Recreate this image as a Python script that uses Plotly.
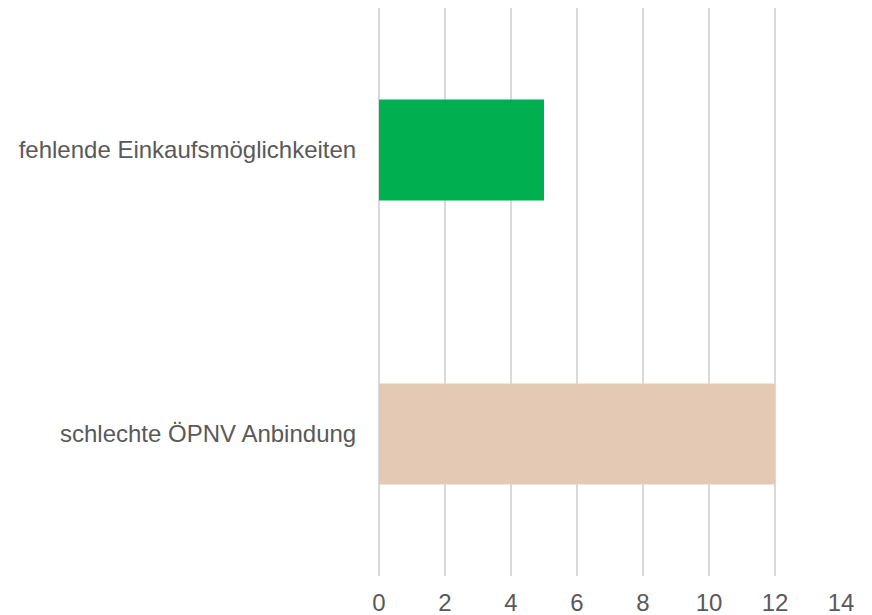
import plotly.graph_objects as go

categories = ["fehlende Einkaufsmöglichkeiten", "schlechte ÖPNV Anbindung"]
values = [5, 12]
colors = ["#00B050", "#E4C9B5"]
tick_vals = [0, 2, 4, 6, 8, 10, 12, 14]

fig = go.Figure(go.Bar(
    x=values, y=categories, orientation="h",
    marker=dict(color=colors, line=dict(width=0)),
    width=0.356,
))

fig.update_layout(
    width=864, height=607,
    margin=dict(l=371, r=31, t=0, b=39),
    paper_bgcolor="white", plot_bgcolor="white",
    font=dict(family="Liberation Sans, Arial, sans-serif", size=24, color="#595959"),
    showlegend=False,
    xaxis=dict(range=[0, 14], tickvals=tick_vals, showgrid=True, gridcolor="#D9D9D9",
               gridwidth=2, zeroline=True, zerolinecolor="#D9D9D9", zerolinewidth=2,
               showline=False, ticks="outside", ticklen=5, tickcolor="rgba(0,0,0,0)",
               tickfont=dict(size=24, color="#595959"), automargin=False),
    yaxis=dict(autorange="reversed", showgrid=False, showline=False, ticks="outside",
               ticklen=17, tickcolor="rgba(0,0,0,0)",
               tickfont=dict(size=24, color="#595959"), automargin=False),
)

fig.write_html("out.html")
